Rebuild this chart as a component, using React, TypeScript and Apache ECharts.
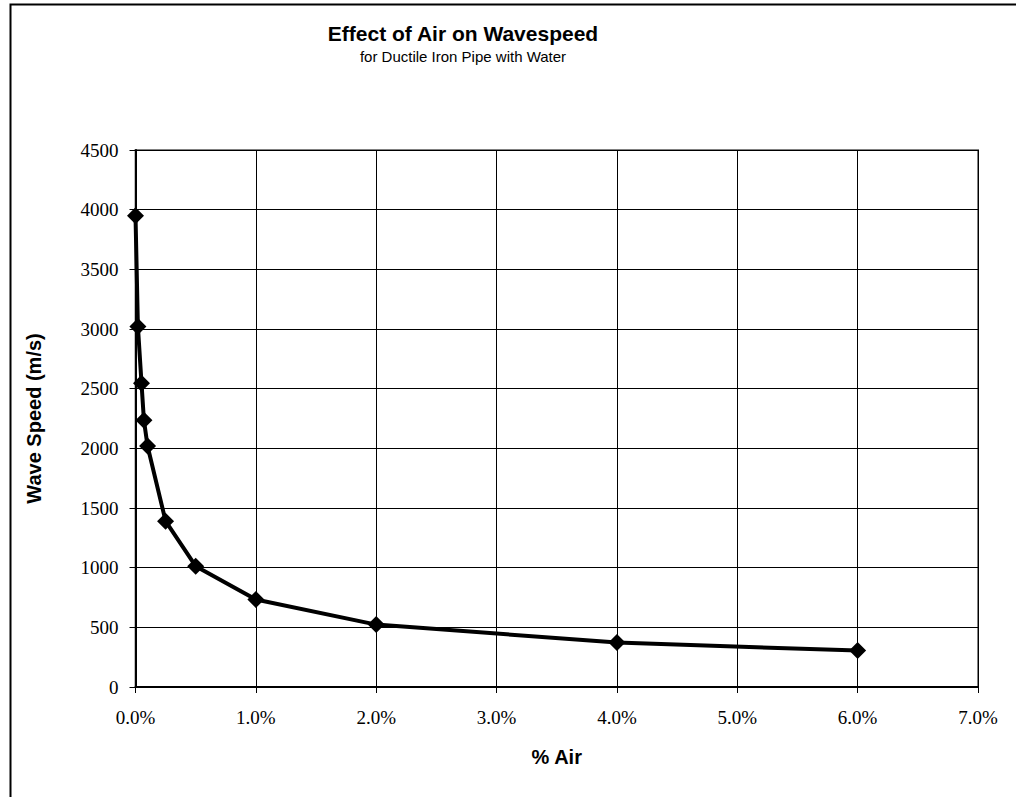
import React, { useEffect, useRef } from "react";
import * as echarts from "echarts";

const airFraction = [0, 0.0002, 0.0005, 0.0007, 0.001, 0.0025, 0.005, 0.01, 0.02, 0.04, 0.06];
const waveSpeed = [3950, 3020, 2545, 2235, 2020, 1390, 1012, 733, 523, 372, 305];
const titleText = "Effect of Air on Wavespeed";
const subtitleText = "for Ductile Iron Pipe with Water";
const xAxisTitle = "% Air";
const yAxisTitle = "Wave Speed (m/s)";

export default function App() {
  const ref = useRef<HTMLDivElement>(null);
  useEffect(() => {
    if (!ref.current) return;
    const chart = echarts.init(ref.current, undefined, { renderer: "svg" });
    const data = airFraction.map((x, i) => [x, waveSpeed[i]]);
    chart.setOption({
      animation: false,
      backgroundColor: "#ffffff",
      title: {
        text: titleText,
        subtext: subtitleText,
        left: 458,
        textAlign: "center",
        top: 18,
        itemGap: 5,
        textStyle: { fontFamily: "Liberation Sans", fontWeight: "bold", fontSize: 21, color: "#000" },
        subtextStyle: { fontFamily: "Liberation Sans", fontSize: 15, color: "#000" },
      },
      graphic: [
        {
          type: "rect",
          shape: { x: 10.5, y: 4.5, width: 1020, height: 810 },
          style: { fill: "none", stroke: "#000", lineWidth: 2 },
          z: 100,
        },
      ],
      grid: {
        left: 135.5,
        top: 150,
        right: 38,
        bottom: 110,
        show: true,
        borderColor: "#808080",
        borderWidth: 2,
        backgroundColor: "transparent",
      },
      xAxis: {
        type: "value",
        min: 0,
        max: 0.07,
        interval: 0.01,
        name: xAxisTitle,
        nameLocation: "middle",
        nameGap: 60,
        nameTextStyle: { fontFamily: "Liberation Sans", fontWeight: "bold", fontSize: 20, color: "#000" },
        axisLine: { show: true, onZero: false, lineStyle: { color: "#000", width: 2 } },
        axisTick: { show: true, length: 6, lineStyle: { color: "#000", width: 1 } },
        axisLabel: {
          fontFamily: "Liberation Serif",
          fontSize: 19,
          color: "#000",
          margin: 21,
          formatter: (v: number) => (v * 100).toFixed(1) + "%",
        },
        splitLine: { show: true, lineStyle: { color: "#000", width: 1 } },
      },
      yAxis: {
        type: "value",
        min: 0,
        max: 4500,
        interval: 500,
        name: yAxisTitle,
        nameLocation: "middle",
        nameGap: 92,
        nameTextStyle: { fontFamily: "Liberation Sans", fontWeight: "bold", fontSize: 20, color: "#000" },
        axisLine: { show: true, lineStyle: { color: "#000", width: 2 } },
        axisTick: { show: true, length: 6, lineStyle: { color: "#000", width: 1 } },
        axisLabel: {
          fontFamily: "Liberation Serif",
          fontSize: 19,
          color: "#000",
          margin: 17,
          formatter: (v: number) => String(v),
        },
        splitLine: { show: true, lineStyle: { color: "#000", width: 1 } },
      },
      series: [
        {
          type: "line",
          data,
          symbol: "diamond",
          symbolSize: 17,
          itemStyle: { color: "#000" },
          lineStyle: { color: "#000", width: 4 },
          z: 5,
        },
      ],
    });
    return () => chart.dispose();
  }, []);
  return (
    <div
      ref={ref}
      style={{ position: "absolute", left: 0, top: 0, width: 1016, height: 797 }}
    />
  );
}
